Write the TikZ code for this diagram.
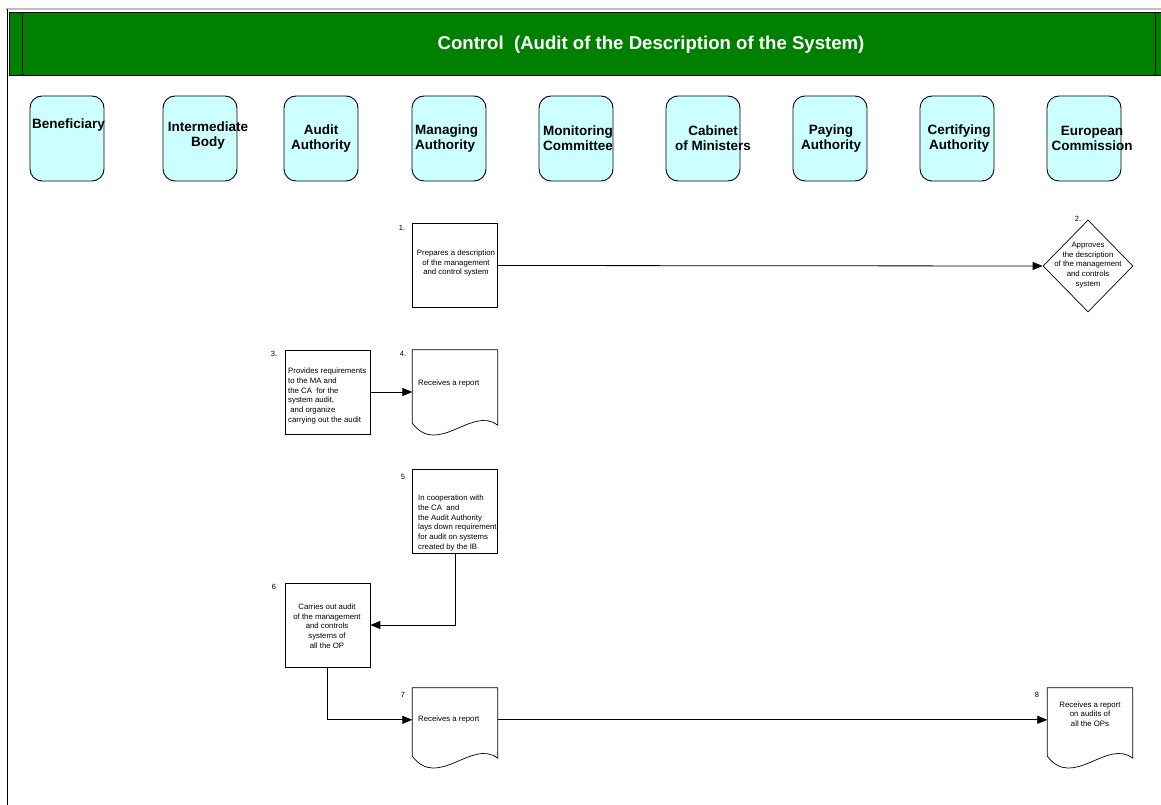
\documentclass[tikz,border=0pt]{standalone}
\usepackage{fontspec}
\setmainfont{Liberation Sans}
\usetikzlibrary{arrows.meta,calc,shapes.geometric}
\definecolor{hdrgreen}{RGB}{0,128,0}
\definecolor{lanefill}{RGB}{204,255,255}
\newcommand\drawdoc[1]{%
  \draw[line width=0.7pt] ($(#1.south west)+(0,-12)$) -- (#1.north west) -- (#1.north east) -- ($(#1.south east)+(0,-10)$)
   .. controls ($(#1.south west)!0.7!(#1.south east)+(0,-30)$) and ($(#1.south west)!0.3!(#1.south east)+(0,22)$) .. ($(#1.south west)+(0,-12)$) -- cycle;}
\begin{document}
\begin{tikzpicture}[x=1pt,y=-1pt,
 lane/.style={draw, line width=0.9pt, fill=lanefill, rounded corners=12pt, minimum width=74pt, minimum height=85pt, inner sep=0},
 lanetext/.style={font=\fontsize{13.5}{15}\selectfont\bfseries, inner sep=0, align=center},
 proc/.style={draw, line width=0.7pt, minimum width=85pt, minimum height=84pt, inner sep=0},
 docbox/.style={minimum width=85pt, inner sep=0},
 small/.style={font=\fontsize{7.8}{9.7}\selectfont, inner sep=0},
 num/.style={font=\fontsize{7.5}{9}\selectfont, inner sep=0},
 conn/.style={line width=0.8pt, -{Triangle[length=10pt,width=8pt]}},
]
\useasboundingbox (0,0) rectangle (1161,805);
% frame
\draw[gray!50, line width=1.5pt] (6,9) -- (1161,9);
\draw[line width=0.8pt] (7,9) -- (7,805);
\draw[fill=hdrgreen, line width=0.8pt] (9,12) rectangle (1166,75);
\draw[line width=0.8pt] (22,12) -- (22,75);
\draw[line width=0.8pt] (1155,12) -- (1155,75);
\node[font=\fontsize{18.6}{21}\selectfont\bfseries, text=white, inner sep=0] (title) at (651,45) {Control\ \ (Audit of the Description of the System)};
% lanes
\node[lane] (L1) at (67,138.5) {};
\node[lane] (L2) at (200,138.5) {};
\node[lane] (L3) at (321,138.5) {};
\node[lane] (L4) at (449,138.5) {};
\node[lane] (L5) at (576,138.5) {};
\node[lane] (L6) at (703,138.5) {};
\node[lane] (L7) at (830,138.5) {};
\node[lane] (L8) at (957,138.5) {};
\node[lane] (L9) at (1084,138.5) {};
\node[lanetext, anchor=west] (T1) at (32,125) {Beneficiary};
\node[lanetext] (T2) at (208,135.5) {Intermediate\\Body};
\node[lanetext] (T3) at (321,138.5) {Audit\\Authority};
\node[lanetext, anchor=west, align=left] (T4) at (415,138.5) {Managing\\Authority};
\node[lanetext] (T5) at (578,138.5) {Monitoring\\Committee};
\node[lanetext] (T6) at (713,138.5) {Cabinet\\of Ministers};
\node[lanetext] (T7) at (831,138.5) {Paying\\Authority};
\node[lanetext] (T8) at (959,138.5) {Certifying\\Authority};
\node[lanetext] (T9) at (1092,138.5) {European\\Commission};
% step 1
\node[proc] (B1) at (455,265.5) {};
\node[small, align=center] (X1) at (456,263) {Prepares a description\\of the management\\and control system};
\node[num] (N1) at (402,228) {1.};
% step 2
\node[diamond, draw, line width=0.7pt, minimum width=90pt, minimum height=92pt, inner sep=0] (D2) at (1088,266) {};
\node[small, align=center] (X2) at (1088,265) {Approves\\the description\\of the management\\and controls\\system};
\node[num] (N2) at (1078,219) {2.};
\draw[conn] (B1.east) -- (D2.west);
% step 3
\node[proc] (B3) at (327.5,392) {};
\node[small, align=left, anchor=west] (X3) at (288,396) {Provides requirements\\to the MA and\\the CA\ \ for the\\system audit,\\\ and organize\\carrying out the audit};
\node[num] (N3) at (274,354) {3.};
% step 4
\node[docbox, minimum height=85pt] (D4) at (455,392.5) {};
\drawdoc{D4}
\node[small, anchor=west] (X4) at (418,383) {Receives a report};
\node[num] (N4) at (403,354) {4.};
\draw[conn] (B3.east) -- (B3.east -| D4.west);
% step 5
\node[proc] (B5) at (455,511) {};
\node[small, align=left, anchor=west] (X5) at (418,523) {In cooperation with\\the CA\ \ and\\the Audit Authority\\lays down requirement\\for audit on systems\\created by the IB};
\node[num] (N5) at (403,477) {5};
% step 6
\node[proc] (B6) at (327.5,625) {};
\node[small, align=center] (X6) at (327,626) {Carries out audit\\of the management\\and controls\\systems of\\all the OP};
\node[num] (N6) at (274,587) {6};
\draw[conn] (B5.south) |- (B6.east);
% step 7
\node[docbox, minimum height=80pt] (D7) at (455,728) {};
\drawdoc{D7}
\node[small, anchor=west] (X7) at (418,719) {Receives a report};
\node[num] (N7) at (403,695) {7};
\coordinate (in7) at ($(D7.north west)+(0,32)$);
\draw[conn] (B6.south) |- (in7);
% step 8
\node[docbox, minimum height=80pt] (D8) at (1090,728) {};
\drawdoc{D8}
\node[small, align=center] (X8) at (1090,714) {Receives a report\\on audits of\\all the OPs};
\node[num] (N8) at (1037,695) {8};
\coordinate (out7) at ($(D7.north east)+(0,32)$);
\coordinate (in8) at ($(D8.north west)+(0,32)$);
\draw[conn] (out7) -- (in8);
\end{tikzpicture}
\end{document}
